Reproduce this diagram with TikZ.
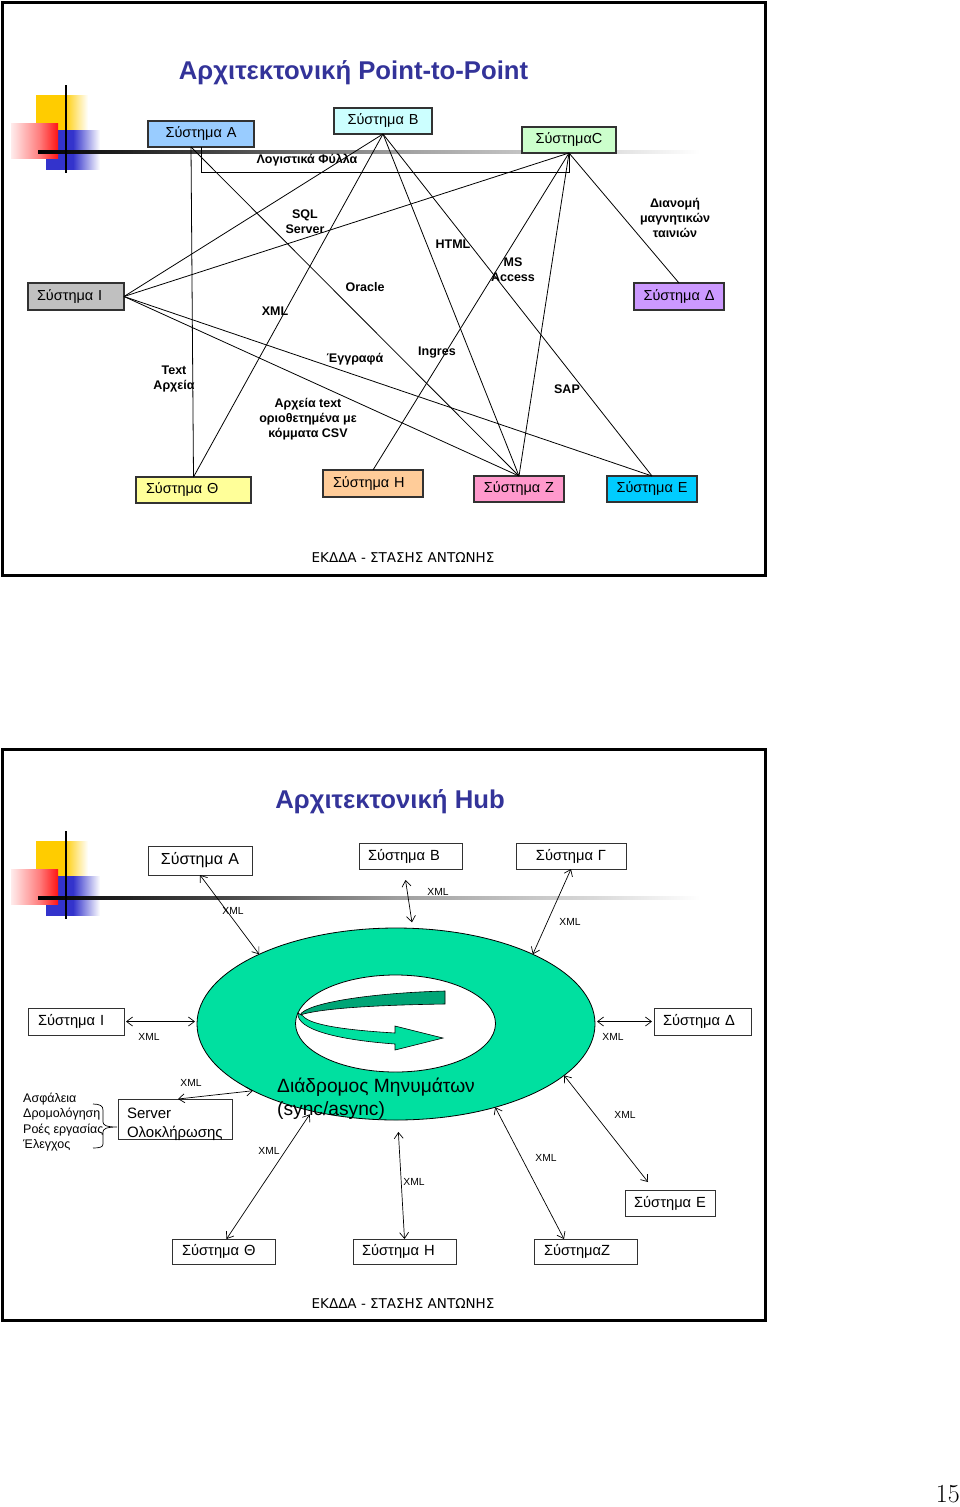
\documentclass[tikz,border=0pt]{standalone}
\usepackage{fontspec}
\setsansfont{Liberation Sans}
\newfontfamily\footfont{DejaVu Sans}
\renewcommand\familydefault{\sfdefault}
\usetikzlibrary{arrows.meta,shapes.geometric}
\definecolor{ttl}{RGB}{51,51,153}
\definecolor{cA}{RGB}{153,204,255}
\definecolor{cB}{RGB}{204,255,255}
\definecolor{cC}{RGB}{204,255,204}
\definecolor{cD}{RGB}{204,153,255}
\definecolor{cI}{RGB}{192,192,192}
\definecolor{cT}{RGB}{255,255,153}
\definecolor{cH}{RGB}{255,204,153}
\definecolor{cZ}{RGB}{255,153,204}
\definecolor{cE}{RGB}{0,204,255}
\definecolor{hubc}{RGB}{0,224,160}
\definecolor{hubd}{RGB}{0,165,118}
\definecolor{lgY}{RGB}{255,204,0}
\definecolor{lgB}{RGB}{51,51,204}
\definecolor{lgR}{RGB}{255,20,20}
\definecolor{bordc}{RGB}{50,50,50}
% shading range 25bp..75bp maps onto the shaded path
\pgfdeclarehorizontalshading{yfade}{100bp}{color(0bp)=(lgY); color(25bp)=(lgY); color(52bp)=(lgY); color(75bp)=(white); color(100bp)=(white)}
\pgfdeclarehorizontalshading{bfade}{100bp}{color(0bp)=(lgB); color(25bp)=(lgB); color(50bp)=(lgB); color(75bp)=(white); color(100bp)=(white)}
\pgfdeclarehorizontalshading{rfade}{100bp}{color(0bp)=(lgR!8); color(25bp)=(lgR!8); color(55bp)=(lgR!55); color(75bp)=(lgR); color(100bp)=(lgR)}
\pgfdeclarehorizontalshading{lfade}{100bp}{color(0bp)=(black); color(25bp)=(black); color(40bp)=(black!70); color(52bp)=(black!38); color(67bp)=(black!15); color(75bp)=(white); color(100bp)=(white)}
\tikzset{
  >={Straight Barb[length=6pt,width=9pt]},
  bx1/.style={draw=bordc, line width=1.2pt, minimum height=26pt, inner xsep=10pt, inner ysep=0pt, outer sep=0pt, font=\fontsize{14.5}{16}\selectfont},
  bx2/.style={draw=bordc, line width=1pt, fill=white, minimum height=26pt, inner xsep=10pt, inner ysep=0pt, outer sep=0pt, font=\fontsize{14.7}{16}\selectfont},
  lbl/.style={font=\bfseries\fontsize{12.5}{15}\selectfont, align=center, inner sep=0pt},
  xl/.style={font=\fontsize{10.3}{11}\selectfont, inner sep=0pt},
  ln/.style={line width=0.8pt},
  dbl/.style={line width=0.7pt, <->},
  ttlstyle/.style={font=\bfseries\fontsize{25.7}{30}\selectfont, text=ttl, inner sep=0pt},
  foot/.style={font=\footfont\fontsize{13.5}{15}\selectfont, inner sep=0pt}
}
\newcommand\slidelogo{%
  \shade[shading=yfade] (36,95) rectangle (88,130);
  \shade[shading=bfade] (46,130) rectangle (100,169);
  \shade[shading=rfade] (11,123) rectangle (58,158);
  \shade[shading=lfade] (38,150.5) rectangle (700,153.5);
  \draw[line width=2.5pt] (66,85) -- (66,173);
}
\begin{document}
\begin{tikzpicture}[x=1pt,y=-1pt]
\useasboundingbox (0,0) rectangle (960,1507);
\fill[white] (0,0) rectangle (960,1507);

% ===== Slide 1 =====
\draw[line width=2.5pt] (2.5,2.5) rectangle (765.5,575.5);
\slidelogo
\node[ttlstyle] (t1) at (353.5,73) {Αρχιτεκτονική Point-to-Point};

\node[bx1, fill=cA, text width=86pt, align=center] (sA) at (201,134) {Σύστημα Α};
\node[bx1, fill=cB, text width=78pt, align=center] (sB) at (383,121) {Σύστημα Β};
\node[bx1, fill=cC, inner xsep=5pt, text width=84pt, align=center] (sC) at (569,140) {ΣύστημαC};
\node[bx1, fill=cD, inner xsep=5pt, text width=80pt, align=center, minimum height=27pt] (sD) at (679,296.5) {Σύστημα Δ};
\node[bx1, fill=cI, inner xsep=9pt, text width=78pt, align=left, minimum height=27pt] (sI) at (76,296.5) {Σύστημα Ι};
\node[bx1, fill=cT, text width=95pt, align=left] (sT) at (193.5,490) {Σύστημα Θ};
\node[bx1, fill=cH, text width=80pt, align=left, minimum height=27pt] (sH) at (373,483.5) {Σύστημα Η};
\node[bx1, fill=cZ, inner xsep=5pt, text width=80pt, align=center] (sZ) at (519,489) {Σύστημα Ζ};
\node[bx1, fill=cE, inner xsep=5pt, text width=80pt, align=center] (sE) at (652,489) {Σύστημα Ε};

\coordinate (lf) at (569,172);
\draw[ln] (sA.south) |- (lf) -- (sC.south);
\draw[ln] ([xshift=-10pt]sA.south) -- (sT.north);
\draw[ln] ([xshift=-10pt]sA.south) -- (sZ.north);
\draw[ln] (sB.south) -- (sI.east);
\draw[ln] (sB.south) -- (sT.north);
\draw[ln] (sB.south) -- (sZ.north);
\draw[ln] (sB.south) -- (sE.north);
\draw[ln] (sC.south) -- (sI.east);
\draw[ln] (sC.south) -- (sH.north);
\draw[ln] (sC.south) -- (sZ.north);
\draw[ln] (sC.south) -- (sD.north);
\draw[ln] (sI.east) -- (sZ.north);
\draw[ln] (sI.east) -- (sE.north);

\node[lbl] (l1) at (307,160) {Λογιστικά Φύλλα};
\node[lbl] (l2) at (305,222) {SQL\\Server};
\node[lbl] (l3) at (453,244) {HTML};
\node[lbl] (l4) at (513,270) {MS\\Access};
\node[lbl] (l5) at (365,287) {Oracle};
\node[lbl] (l6) at (275,311) {XML};
\node[lbl] (l7) at (675,218) {Διανομή\\μαγνητικών\\ταινιών};
\node[lbl] (l8) at (174,379) {Text\\Αρχεία};
\node[lbl] (l9) at (355,359) {Έγγραφά};
\node[lbl] (l10) at (437,353) {Ingres};
\node[lbl] (l11) at (567,389) {SAP};
\node[lbl] (l12) at (308,419) {Αρχεία text\\οριοθετημένα με\\κόμματα CSV};

\node[foot] (f1) at (403,558) {ΕΚΔΔΑ - ΣΤΑΣΗΣ ΑΝΤΩΝΗΣ};

% ===== Slide 2 =====
\draw[line width=2.5pt] (2.5,749.5) rectangle (765.5,1320.5);
\begin{scope}[yshift=-746pt]
\slidelogo
\end{scope}
\node[ttlstyle] (t2) at (390,802) {Αρχιτεκτονική Hub};

\node[ellipse, draw=black, line width=0.8pt, fill=hubc, minimum width=398pt, minimum height=192pt, inner sep=0pt, outer sep=0pt] (hub) at (396,1024) {};
\node[ellipse, draw=black, line width=0.8pt, fill=white, minimum width=200pt, minimum height=97pt, inner sep=0pt, outer sep=0pt] (ring) at (395.5,1023.5) {};
\filldraw[fill=hubd, draw=black, line width=0.6pt] (445,991) -- (445,1004) .. controls (380,1005) and (322,1008) .. (300,1015) .. controls (306,1003) and (370,993) .. (445,991) -- cycle;
\filldraw[fill=hubc, draw=black, line width=0.6pt] (298,1013) .. controls (296,1030) and (340,1040) .. (395,1044) -- (395,1050) -- (443,1038) -- (395,1026) -- (395,1033) .. controls (345,1030) and (310,1025) .. (303,1016) -- cycle;
\node[anchor=west, align=left, inner sep=0pt, font=\fontsize{19.2}{23}\selectfont] (hubtxt) at (277,1098.5) {Διάδρομος Μηνυμάτων\\(sync/async)};

\node[bx2, font=\fontsize{16}{18}\selectfont, text width=84pt, align=center, minimum height=29pt] (tA) at (200,860.5) {Σύστημα Α};
\node[bx2, text width=85pt, inner xsep=9pt, align=left] (tB) at (410.5,856) {Σύστημα Β};
\node[bx2, text width=90pt, align=center] (tG) at (571,856) {Σύστημα Γ};
\node[bx2, text width=76pt, align=left, minimum height=27pt] (tI) at (76,1021.5) {Σύστημα Ι};
\node[bx2, text width=79pt, inner xsep=9pt, align=left, minimum height=27pt] (tD) at (702.5,1021.5) {Σύστημα Δ};
\node[bx2, font=\fontsize{15}{19}\selectfont, text width=96pt, inner xsep=9pt, align=left, text height=19pt, text depth=21pt] (tS) at (175,1119) {Server\\Ολοκλήρωσης};
\node[bx2, inner xsep=5pt, text width=80pt, align=center] (tE) at (670,1203) {Σύστημα Ε};
\node[bx2, text width=83pt, align=left, minimum height=25pt] (tT) at (223.5,1251.5) {Σύστημα Θ};
\node[bx2, text width=85pt, inner xsep=9pt, align=left, minimum height=25pt] (tH) at (404.5,1251.5) {Σύστημα Η};
\node[bx2, text width=83pt, align=left, minimum height=25pt] (tZ) at (585.5,1251.5) {ΣύστημαΖ};

\draw[dbl] (tA.south) -- (hub.153);
\draw[dbl, shorten >=6pt] ([xshift=-5pt,yshift=-11pt]tB.south) -- (hub.80);
\draw[dbl] (tG.south) -- (hub.27);
\draw[dbl, shorten <=2pt, shorten >=2pt] (tI.east) -- (tI.east -| hub.west);
\draw[dbl, shorten <=2pt, shorten >=2pt] (tD.west) -- (tD.west -| hub.east);
\draw[dbl] ([xshift=3pt]tS.north) -- (hub.205);
\draw[dbl, shorten >=4pt] ([xshift=3pt]tT.north) -- (hub.226);
\draw[dbl, shorten >=12pt] (tH.north) -- (hub.271);
\draw[dbl] ([xshift=-21.5pt]tZ.north) -- (hub.320);
\draw[dbl] ([xshift=-22pt,yshift=8pt]tE.north) -- (hub.343);

\node[xl] (x1) at (233,911) {XML};
\node[xl] (x2) at (438,892) {XML};
\node[xl] (x3) at (570,922) {XML};
\node[xl] (x4) at (149,1037) {XML};
\node[xl] (x5) at (613,1037) {XML};
\node[xl] (x6) at (191,1083) {XML};
\node[xl] (x7) at (269,1151) {XML};
\node[xl] (x8) at (414,1182) {XML};
\node[xl] (x9) at (546,1158) {XML};
\node[xl] (x10) at (625,1115) {XML};

\node[anchor=west, align=left, inner sep=0pt, font=\fontsize{12.5}{15.4}\selectfont] (lst) at (23,1122) {Ασφάλεια\\Δρομολόγηση\\Ροές εργασίας\\Έλεγχος};
\draw[line width=0.7pt] (93,1104) .. controls (100,1104) and (103,1106) .. (103,1110) -- (103,1122) .. controls (103,1125) and (106,1127) .. (117,1127) .. controls (106,1127) and (103,1129) .. (103,1132) -- (103,1144) .. controls (103,1147) and (100,1148) .. (93,1148);

\node[foot] (f2) at (403,1304) {ΕΚΔΔΑ - ΣΤΑΣΗΣ ΑΝΤΩΝΗΣ};

\node[anchor=east, inner sep=0pt, font=\rmfamily\fontsize{26}{30}\selectfont] (pn) at (960,1494) {15};
\end{tikzpicture}
\end{document}
